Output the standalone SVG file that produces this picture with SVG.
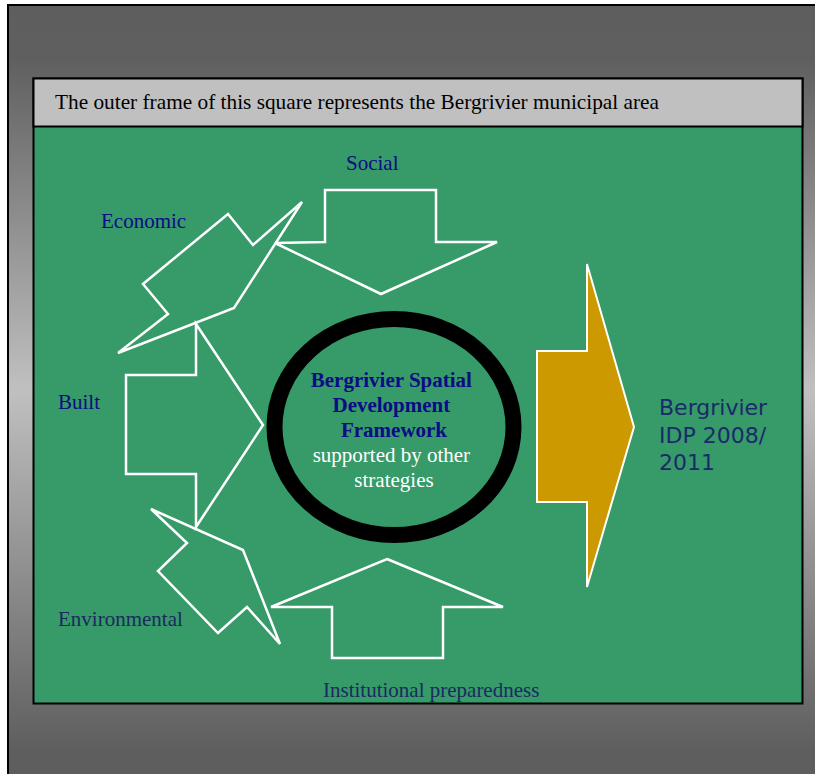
<svg xmlns="http://www.w3.org/2000/svg" width="815" height="774" viewBox="0 0 815 774">
<defs>
<linearGradient id="bg" x1="0" y1="5" x2="0" y2="774" gradientUnits="userSpaceOnUse">
<stop offset="0" stop-color="#5e5e5e"/>
<stop offset="0.07" stop-color="#5f5f5f"/>
<stop offset="0.5" stop-color="#c0c0c0"/>
<stop offset="0.97" stop-color="#5e5e5e"/>
</linearGradient>
<style>
.lbl{font-family:"Liberation Serif","Times New Roman",serif;font-size:21px}
.navy{fill:#0b0b85}
.dnavy{fill:#1b2a5e}
.warrow{fill:none;stroke:#ffffff;stroke-width:2.5;stroke-linejoin:miter}
.ctr{font-family:"Liberation Serif","Times New Roman",serif;font-size:21px;text-anchor:middle}
.idp{font-family:"DejaVu Sans",Verdana,sans-serif;font-size:22px;fill:#1a2a6a}
</style>
</defs>
<rect x="0" y="0" width="815" height="774" fill="#ffffff"/>
<rect x="8" y="5" width="820" height="780" fill="url(#bg)" stroke="#000000" stroke-width="2"/>
<g id="frame">
<rect x="33.5" y="78.5" width="769" height="625" fill="#369a69" stroke="#000000" stroke-width="2"/>
<rect x="33.5" y="78.5" width="769" height="48" fill="#c0c0c0" stroke="#000000" stroke-width="2"/>
<text x="55" y="109" class="lbl" fill="#000000" textLength="604" lengthAdjust="spacingAndGlyphs">The outer frame of this square represents the Bergrivier municipal area</text>
</g>
<g id="connectors"></g>
<g id="social">
<polygon class="warrow" points="325,190 436,190 436,242 497,242 381,294 275,243 325,242"/>
<text x="346" y="170" class="lbl navy">Social</text>
</g>
<g id="economic">
<polygon class="warrow" points="302,202 234,308 118,353 168,314 143,284 228,214 253,245"/>
<text x="101" y="228" class="lbl navy">Economic</text>
</g>
<g id="built">
<polygon class="warrow" points="126,375 196,375 196,324 263,425 196,527 196,474 126,474"/>
<text x="58" y="409" class="lbl navy">Built</text>
</g>
<g id="environmental">
<polygon class="warrow" points="151,509 243,550 280,644 247,607 218,633 158,571 187,543"/>
<text x="58" y="626" class="lbl dnavy">Environmental</text>
</g>
<g id="institutional">
<polygon class="warrow" points="387,559 503,607 443,607 443,658 332,658 332,607 271,607"/>
<text x="323" y="697" class="lbl dnavy">Institutional preparedness</text>
</g>
<g id="sdf">
<ellipse cx="394" cy="427" rx="119.5" ry="108" fill="#369a69" stroke="#000000" stroke-width="16"/>
<text class="ctr navy" font-weight="bold">
<tspan x="394" y="387">Bergrivier Spatial</tspan>
<tspan x="394" y="412">Development</tspan>
<tspan x="394" y="437">Framework</tspan>
</text>
<text class="ctr" fill="#ffffff">
<tspan x="394" y="462">supported by other</tspan>
<tspan x="394" y="487">strategies</tspan>
</text>
</g>
<g id="idp">
<polygon points="537,351 587,351 587,264 634,427 587,587 587,502 537,502" fill="#cc9900" stroke="#ffffff" stroke-width="2"/>
<text class="idp">
<tspan x="659" y="415">Bergrivier</tspan>
<tspan x="659" y="443">IDP 2008/</tspan>
<tspan x="659" y="470">2011</tspan>
</text>
</g>
</svg>
